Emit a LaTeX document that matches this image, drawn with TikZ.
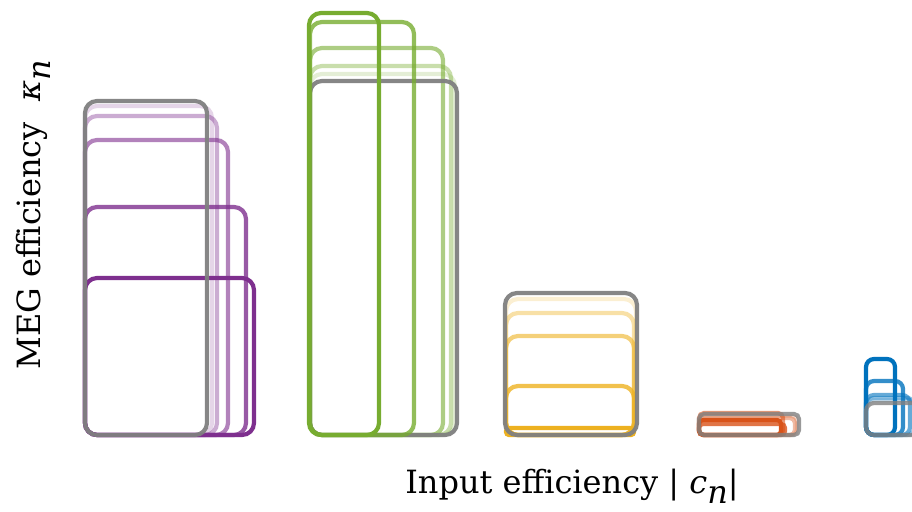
\documentclass[tikz,border=0pt]{standalone}
\usepackage{fontspec}
\setmainfont{DejaVu Serif}
\definecolor{cpur}{RGB}{126,47,142}
\definecolor{cgrn}{RGB}{119,172,48}
\definecolor{cyel}{RGB}{237,177,32}
\definecolor{cora}{RGB}{217,83,25}
\definecolor{cblu}{RGB}{0,114,189}
\definecolor{cgry}{RGB}{128,128,128}
\tikzset{
  bx/.style={line width=4.2pt, rounded corners=12pt},
  a1/.style={draw opacity=1},
  a2/.style={draw opacity=0.8},
  a3/.style={draw opacity=0.6},
  a4/.style={draw opacity=0.4},
  a5/.style={draw opacity=0.2},
  gr/.style={draw=cgry, draw opacity=0.95},
  lab/.style={font=\fontsize{32}{38}\selectfont, inner sep=0pt}
}
\newcommand\subn{\raisebox{-0.32em}{\itshape n}}
\begin{document}
\begin{tikzpicture}[x=1pt,y=-1pt]
\useasboundingbox (0,0) rectangle (912,511);
\clip (0,0) rectangle (912,511);
% purple group
\draw[bx,draw=cpur,a5] (85,435) rectangle (212,106);
\draw[bx,draw=cpur,a4] (85,435) rectangle (217,116);
\draw[bx,draw=cpur,a3] (85,435) rectangle (228,140);
\draw[bx,draw=cpur,a2] (85,435) rectangle (246,207);
\draw[bx,draw=cpur,a1] (85,435) rectangle (254,278);
\draw[bx,gr] (85,435) rectangle (207,101);
% green group
\draw[bx,draw=cgrn,a5] (310,435) rectangle (455,74);
\draw[bx,draw=cgrn,a4] (310,435) rectangle (451,66);
\draw[bx,draw=cgrn,a3] (310,435) rectangle (443,48);
\draw[bx,gr] (310,435) rectangle (457,81);
\draw[bx,draw=cgrn,a2] (310,435) rectangle (414,22);
\draw[bx,draw=cgrn,a1] (309,435) rectangle (379,13);
% yellow group
\draw[bx,draw=cyel,a5] (506,435) rectangle (636,299);
\draw[bx,draw=cyel,a4] (506,435) rectangle (634,313);
\draw[bx,draw=cyel,a3] (506,435) rectangle (634,336);
\draw[bx,draw=cyel,a2] (506,435) rectangle (634,386);
\draw[bx,draw=cyel,a1,rounded corners=3pt] (506,435) rectangle (634,428);
\draw[bx,gr] (505,435) rectangle (637,293);
% orange group
\draw[bx,draw=cora,a5,rounded corners=5pt] (699,435) rectangle (797,416);
\draw[bx,draw=cora,a4,rounded corners=5pt] (699,435) rectangle (795,418);
\draw[bx,draw=cora,a3,rounded corners=5pt] (699,435) rectangle (783,413);
\draw[bx,draw=cora,a2,rounded corners=4pt] (699,435) rectangle (785,424);
\draw[bx,draw=cora,a1,rounded corners=4pt] (699,435) rectangle (781,420);
\draw[bx,gr,draw opacity=0.8,rounded corners=5pt] (699,435) rectangle (799,414);
% blue group
\draw[bx,draw=cblu,a5,rounded corners=8pt] (866,435) rectangle (918,400);
\draw[bx,draw=cblu,a4,rounded corners=8pt] (866,435) rectangle (915,398);
\draw[bx,draw=cblu,a3,rounded corners=8pt] (866,435) rectangle (910,395);
\draw[bx,draw=cblu,a2,rounded corners=8pt] (866,435) rectangle (903,381);
\draw[bx,draw=cblu,a1,rounded corners=8pt] (866,435) rectangle (895,359);
\draw[bx,gr,draw opacity=0.8,rounded corners=8pt] (866,435) rectangle (922,403);
% labels
\node[lab, anchor=base] (xl) at (572,493) {Input efficiency | {\itshape c}\subn|};
\node[lab, anchor=base, rotate=90] (yl) at (40,215) {MEG efficiency\ \ {\itshape κ}\subn};
\end{tikzpicture}
\end{document}
